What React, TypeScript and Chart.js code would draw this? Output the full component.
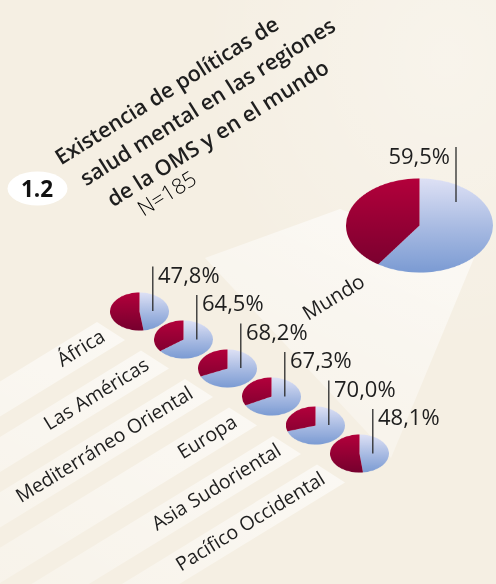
import React, { useEffect, useRef } from "react";
import { Chart, registerables } from "chart.js";

Chart.register(...registerables);

// ---------- data ----------
const regions = [
  "África",
  "Las Américas",
  "Mediterráneo Oriental",
  "Europa",
  "Asia Sudoriental",
  "Pacífico Occidental",
];
const regionValues = [47.8, 64.5, 68.2, 67.3, 70.0, 48.1];
const worldLabel = "Mundo";
const worldValue = 59.5;
const titleLines = [
  "Existencia de políticas de",
  "salud mental en las regiones",
  "de la OMS y en el mundo",
];
const sampleLabel = "N=185";
const figureNumber = "1.2";

// ---------- style / layout ----------
const W = 496;
const H = 584;
const BG = "#f5efe3";
const TEXT = "#1e1e1e";
const FONT = "'Open Sans', 'Noto Sans', sans-serif";
const ANGLE = -32;
const LABEL_ANGLE = -31.5;
const fmt = (v: number) => v.toFixed(1).replace(".", ",") + "%";

const SMALL_RX = 29.5;
const SMALL_RATIO = 0.645;
const WORLD_RX = 73.5;
const WORLD_RATIO = 0.64;
const ROW0 = { x: 139.5, y: 311 };
const STEP = { x: 44, y: 28.5 };
const WORLD_C = { x: 419.5, y: 225 };

function PieCanvas({ value, label, cx, cy, rx, ratio }: { value: number; label: string; cx: number; cy: number; rx: number; ratio: number }) {
  const ref = useRef<HTMLCanvasElement | null>(null);
  useEffect(() => {
    if (!ref.current) return;
    const grad = (ctx: any) => {
      const chart = ctx.chart;
      const a = chart.chartArea;
      const blue = ctx.dataIndex === 0;
      if (!a) return blue ? "#a9bbe3" : "#960034";
      const g = chart.ctx.createLinearGradient(0, a.top, 0, a.bottom);
      if (blue) {
        g.addColorStop(0, "#dee1f5");
        g.addColorStop(0.5, "#aabce3");
        g.addColorStop(1, "#7b9bd3");
      } else {
        g.addColorStop(0, "#b3003b");
        g.addColorStop(1, "#76002e");
      }
      return g;
    };
    const chart = new Chart(ref.current, {
      type: "pie",
      data: {
        labels: [label + " – sí", label + " – no"],
        datasets: [
          {
            data: [value, 100 - value],
            backgroundColor: grad,
            borderWidth: 0,
            hoverOffset: 0,
            offset: 0,
          } as any,
        ],
      },
      options: {
        responsive: false,
        maintainAspectRatio: false,
        animation: false,
        events: [],
        layout: { padding: 0 },
        plugins: { legend: { display: false }, tooltip: { enabled: false } },
      },
    });
    return () => chart.destroy();
  }, [value, label]);
  const size = rx * 2;
  return (
    <canvas
      ref={ref}
      width={size}
      height={size}
      style={{
        position: "absolute",
        left: cx - rx,
        top: cy - rx,
        width: size,
        height: size,
        transform: `scaleY(${ratio})`,
        transformOrigin: "50% 50%",
        zIndex: 1,
      }}
    />
  );
}

function rot(x: number, y: number, a: number = ANGLE) {
  return `rotate(${a} ${x} ${y})`;
}

export default function App() {
  const rad = (LABEL_ANGLE * Math.PI) / 180;
  const t = { x: Math.cos(rad), y: Math.sin(rad) };
  const centers = regions.map((_, i) => ({ x: ROW0.x + STEP.x * i, y: ROW0.y + STEP.y * i }));

  const bands = centers.map((c, i) => {
    const A = { x: c.x - 33, y: c.y + 29 };
    const UR = { x: A.x - 9.5, y: A.y - 18 };
    const LR = { x: A.x + 18.5, y: A.y };
    const L = 520;
    const LL = { x: LR.x - L * t.x, y: LR.y - L * t.y };
    const UL = { x: UR.x - L * t.x, y: UR.y - L * t.y };
    return { pts: `${UR.x},${UR.y} ${LR.x},${LR.y} ${LL.x},${LL.y} ${UL.x},${UL.y}`, A, i };
  });

  const titleStarts = [
    { x: 61, y: 165.5 },
    { x: 86, y: 186.5 },
    { x: 113, y: 207.5 },
  ];
  const nStart = { x: 143.5, y: 217 };

  return (
    <div style={{ position: "absolute", left: 0, top: 0, width: W, height: H, background: BG, overflow: "hidden" }}>
      <svg width={W} height={H} style={{ position: "absolute", left: 0, top: 0, zIndex: 0 }}>
        <defs>
          <linearGradient id="bandG" gradientUnits="objectBoundingBox" x1="1" y1="0" x2="0" y2="1">
            <stop offset="0" stopColor="#ffffff" stopOpacity="0.6" />
            <stop offset="0.5" stopColor="#ffffff" stopOpacity="0.3" />
            <stop offset="1" stopColor="#ffffff" stopOpacity="0.1" />
          </linearGradient>
          <linearGradient id="beamG" x1="0.8" y1="0" x2="0.3" y2="1">
            <stop offset="0" stopColor="#ffffff" stopOpacity="0.6" />
            <stop offset="1" stopColor="#ffffff" stopOpacity="0.25" />
          </linearGradient>
          <radialGradient id="glow" cx="0.9" cy="0.1" r="0.5">
            <stop offset="0" stopColor="#ffffff" stopOpacity="0.3" />
            <stop offset="1" stopColor="#ffffff" stopOpacity="0" />
          </radialGradient>
        </defs>
        <rect x={0} y={0} width={W} height={H} fill="url(#glow)" />
        <polygon points="340,209 474,258 391,458 205,258" fill="url(#beamG)" />
        {bands.map((b) => (
          <polygon key={b.i} points={b.pts} fill="url(#bandG)" />
        ))}
      </svg>

      {centers.map((c, i) => (
        <PieCanvas key={regions[i]} value={regionValues[i]} label={regions[i]} cx={c.x} cy={c.y} rx={SMALL_RX} ratio={SMALL_RATIO} />
      ))}
      <PieCanvas value={worldValue} label={worldLabel} cx={WORLD_C.x} cy={WORLD_C.y} rx={WORLD_RX} ratio={WORLD_RATIO} />

      <svg width={W} height={H} style={{ position: "absolute", left: 0, top: 0, zIndex: 2, pointerEvents: "none" }}>
        <ellipse cx={37.5} cy={188.5} rx={30} ry={17} fill="#ffffff" />
        <text x={37} y={197} textAnchor="middle" fontFamily={FONT} fontWeight={700} fontSize={22.5} fill="#111">
          {figureNumber}
        </text>
        {titleLines.map((line, i) => {
          const s = titleStarts[i];
          return (
            <text key={i} x={s.x} y={s.y} transform={rot(s.x, s.y)} fontFamily={FONT} fontWeight={600} fontSize={21.5} fill={TEXT}>
              {line}
            </text>
          );
        })}
        <text x={nStart.x} y={nStart.y} transform={rot(nStart.x, nStart.y)} fontFamily={FONT} fontWeight={300} fontSize={21.5} fill="#000">
          {sampleLabel}
        </text>

        {bands.map((b) => (
          <text key={"l" + b.i} x={b.A.x} y={b.A.y} transform={rot(b.A.x, b.A.y, LABEL_ANGLE)} textAnchor="end" fontFamily={FONT} fontSize={19.5} fill={TEXT}>
            {regions[b.i]}
          </text>
        ))}
        <text x={308} y={321} transform={rot(308, 321, LABEL_ANGLE)} fontFamily={FONT} fontSize={20.5} fill={TEXT}>
          {worldLabel}
        </text>

        {centers.map((c, i) => (
          <g key={"v" + i}>
            <line x1={c.x + 13.3} y1={c.y - 44.5} x2={c.x + 13.3} y2={c.y} stroke="#2a2a2a" strokeWidth={1.3} />
            <text x={c.x + 18.5} y={c.y - 28.5} fontFamily={FONT} fontSize={22} fill={TEXT}>
              {fmt(regionValues[i])}
            </text>
          </g>
        ))}
        <line x1={456} y1={147} x2={456} y2={202} stroke="#2a2a2a" strokeWidth={1.3} />
        <text x={450} y={163.5} textAnchor="end" fontFamily={FONT} fontSize={22} fill={TEXT}>
          {fmt(worldValue)}
        </text>
      </svg>
    </div>
  );
}
